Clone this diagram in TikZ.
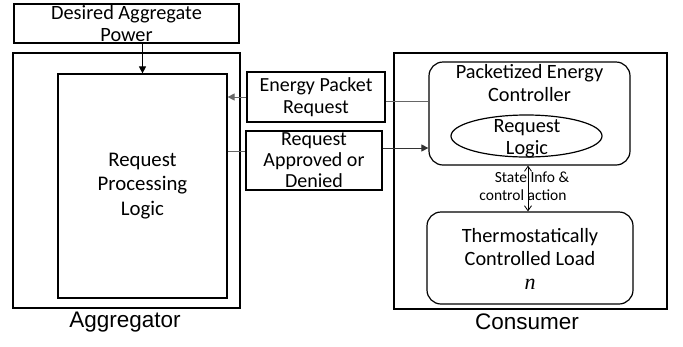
\documentclass[tikz,border=0pt]{standalone}
\usepackage{fontspec}
\setmainfont{Carlito}
\newfontfamily\arialf{Liberation Sans}
\newfontfamily\timesf{Liberation Serif}
\usetikzlibrary{arrows.meta,shapes.geometric}
\tikzset{
  box/.style={draw=black, line width=1.2pt, inner sep=0pt, align=center,
    font=\fontsize{20.3}{22.5}\selectfont, text=black},
  rbox/.style={box, rounded corners=14pt},
  conn/.style={draw=black!60, line width=0.9pt},
  tri/.tip={Triangle[length=7pt,width=7pt]},
  lbl/.style={inner sep=0pt, font=\fontsize{20.3}{23}\selectfont, text=black},
  small/.style={inner sep=0pt, font=\fontsize{15.5}{18}\selectfont, text=black},
  big/.style={inner sep=0pt, font=\arialf\fontsize{22.5}{26}\selectfont, text=black},
}
\begin{document}
\begin{tikzpicture}[x=1pt,y=-1pt]
\useasboundingbox (0,0) rectangle (683,346);
% Aggregator
\node[box, minimum width=225, minimum height=39, font=\fontsize{20.3}{22}\selectfont] (desired) at (126.5,23.5) {Desired Aggregate\\Power};
\node[box, minimum width=227, minimum height=255] (agg) at (126.5,180.5) {};
\node[box, minimum width=169, minimum height=224, font=\fontsize{20.8}{24.5}\selectfont] (inner) at (142.5,186) {Request\\Processing\\Logic};
\node[big] (agglbl) at (125,322) {Aggregator};
% Messages
\node[box, minimum width=138, minimum height=50, font=\fontsize{20}{21.5}\selectfont] (ep) at (316,97) {Energy Packet\\Request};
\node[box, minimum width=136, minimum height=59, font=\fontsize{20}{21}\selectfont] (ra) at (314,160.5) {Request\\Approved or\\Denied};
% Consumer
\node[box, minimum width=273, minimum height=256] (cons) at (530.5,181) {};
\node[rbox, minimum width=201, minimum height=103] (pec) at (529.5,113.5) {};
\node[lbl, align=center] (pectxt) at (529.5,83.5) {Packetized Energy\\Controller};
\node[box, ellipse, minimum width=151, minimum height=42] (rl) at (526.5,136) {};
\node[lbl, align=center, font=\fontsize{20.3}{22}\selectfont] (rltxt) at (527,139) {Request\\Logic};
\node[rbox, minimum width=206, minimum height=92] (tcl) at (530,258) {};
\node[lbl, align=center] (tcltxt) at (530,247.5) {Thermostatically\\Controlled Load};
\node[inner sep=0pt, font=\timesf\itshape\fontsize{22}{24}\selectfont] (n) at (530,284) {n};
\node[small] (state) at (532,177) {State Info \&};
\node[small] (ctrl) at (523,195) {control action};
\node[big] (conslbl) at (527,322) {Consumer};
% Connectors
\draw[line width=0.9pt, -tri] (inner.north |- desired.south) -- (inner.north);
\draw[conn, -tri] (ep.west) -- (inner.east |- ep.west);
\draw[conn] (pec.west |- 0,101) -- (ep.east |- 0,101);
\draw[conn] (inner.east |- 0,151) -- (ra.west |- 0,151);
\draw[line width=0.9pt, draw=black!80, -tri] (ra.east |- 0,148) -- (pec.west |- 0,148);
\draw[line width=0.8pt, {Straight Barb[length=5pt,width=7pt]}-{Straight Barb[length=5pt,width=7pt]}] (pec.south -| 528,0) -- (tcl.north -| 528,0);
\end{tikzpicture}
\end{document}
